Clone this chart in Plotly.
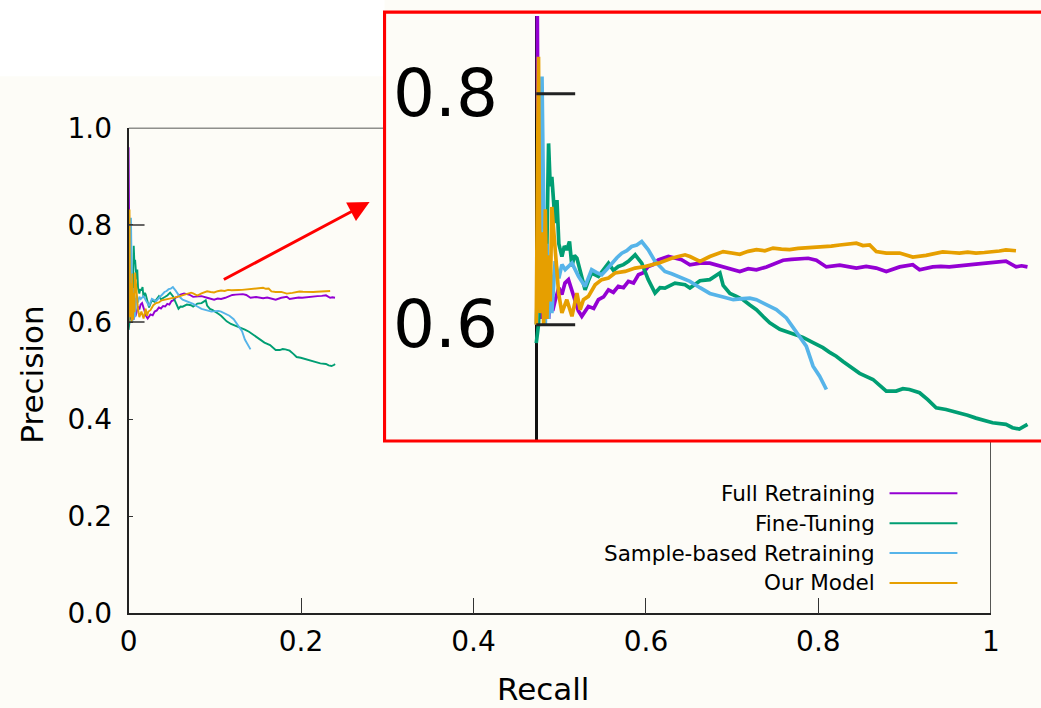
import plotly.graph_objects as go

# ---------------- data ----------------
series_names = ["Full Retraining", "Fine-Tuning", "Sample-based Retraining", "Our Model"]
series_colors = ["#9400d3", "#009e73", "#56b4e9", "#e69f00"]

full_recall = [0.0, 0.0005, 0.001, 0.0015, 0.002, 0.0025, 0.003, 0.004, 0.005, 0.006,
               0.007, 0.008, 0.0093, 0.011, 0.0125, 0.014, 0.0157, 0.0175, 0.019, 0.0205,
               0.0222, 0.0238, 0.0254, 0.028, 0.0303, 0.0328, 0.0352, 0.0376, 0.04, 0.0425,
               0.0449, 0.0474, 0.0498, 0.0522, 0.0546, 0.057, 0.0595, 0.0644, 0.0676, 0.0708,
               0.0749, 0.0798, 0.0846, 0.0911, 0.0952, 0.0992, 0.1033, 0.1073, 0.1122, 0.1162,
               0.1203, 0.1244, 0.1284, 0.1325, 0.1365, 0.1414, 0.1479, 0.152, 0.156, 0.1608,
               0.1657, 0.1706, 0.1771, 0.1835, 0.1868, 0.1932, 0.1972, 0.2013, 0.2054, 0.2094,
               0.2143, 0.2192, 0.224, 0.2289, 0.2338, 0.2365, 0.2394]
full_precision = [0.96, 0.875, 0.70, 0.62, 0.66, 0.605, 0.64, 0.60, 0.625, 0.605,
                  0.63, 0.612, 0.6216, 0.632, 0.626, 0.636, 0.639, 0.628, 0.6216, 0.612,
                  0.6072, 0.612, 0.6158, 0.614, 0.6216, 0.624, 0.6302, 0.628, 0.6331, 0.632,
                  0.6375, 0.636, 0.6432, 0.645, 0.6504, 0.652, 0.6562, 0.659, 0.658, 0.6562,
                  0.6519, 0.6533, 0.6533, 0.650, 0.648, 0.646, 0.6485, 0.6475, 0.650, 0.653,
                  0.6558, 0.6565, 0.657, 0.6575, 0.6558, 0.650, 0.6515, 0.650, 0.649, 0.6505,
                  0.649, 0.646, 0.650, 0.6519, 0.6475, 0.650, 0.6505, 0.650, 0.651, 0.6519,
                  0.6525, 0.6533, 0.654, 0.655, 0.650, 0.651, 0.650]

fine_recall = [0.0, 0.0011, 0.002, 0.003, 0.004, 0.005, 0.006, 0.0068, 0.0076, 0.0085,
               0.0092, 0.0101, 0.011, 0.0125, 0.0137, 0.0149, 0.0162, 0.0174, 0.0186, 0.0198,
               0.0222, 0.0238, 0.0254, 0.027, 0.0303, 0.0328, 0.0352, 0.0376, 0.04, 0.0425,
               0.0449, 0.0482, 0.0514, 0.0546, 0.0579, 0.0603, 0.0627, 0.0676, 0.0725, 0.0749,
               0.0798, 0.0846, 0.0871, 0.0895, 0.0911, 0.0944, 0.0976, 0.1008, 0.1041, 0.1073,
               0.1106, 0.1138, 0.1187, 0.1235, 0.1268, 0.130, 0.1349, 0.1397, 0.143, 0.1462,
               0.1495, 0.1527, 0.1576, 0.1641, 0.1706, 0.1754, 0.1787, 0.1819, 0.1868, 0.1908,
               0.1949, 0.1997, 0.2062, 0.2102, 0.2143, 0.2184, 0.2224, 0.2289, 0.2321, 0.2354,
               0.2386, 0.2394]
fine_precision = [0.584, 0.60, 0.64, 0.62, 0.68, 0.65, 0.757, 0.72, 0.728, 0.70,
                  0.688, 0.708, 0.67, 0.659, 0.668, 0.6648, 0.672, 0.6504, 0.66, 0.6576,
                  0.6418, 0.6302, 0.638, 0.6447, 0.6418, 0.648, 0.6533, 0.647, 0.6504, 0.652,
                  0.6548, 0.6605, 0.6533, 0.639, 0.6274, 0.632, 0.6317, 0.636, 0.6346, 0.6317,
                  0.638, 0.639, 0.642, 0.6447, 0.634, 0.627, 0.6245, 0.6216, 0.617, 0.613,
                  0.607, 0.6015, 0.596, 0.5928, 0.591, 0.589, 0.5845, 0.580, 0.576, 0.5726,
                  0.568, 0.564, 0.5578, 0.5525, 0.5424, 0.5424, 0.5445, 0.5438, 0.541, 0.535,
                  0.528, 0.5265, 0.5237, 0.5215, 0.519, 0.517, 0.515, 0.5136, 0.5107, 0.5095,
                  0.5121, 0.5136]

sample_recall = [0.0, 0.0008, 0.0015, 0.0028, 0.0036, 0.0044, 0.0052, 0.006, 0.0068, 0.0076,
                 0.0092, 0.011, 0.0125, 0.0141, 0.0174, 0.0206, 0.0238, 0.027, 0.0295, 0.0319,
                 0.0344, 0.0368, 0.0393, 0.0417, 0.0441, 0.0465, 0.049, 0.0514, 0.0546, 0.0579,
                 0.0603, 0.0627, 0.066, 0.0692, 0.0749, 0.0798, 0.0846, 0.0911, 0.096, 0.1008,
                 0.1041, 0.1073, 0.1122, 0.117, 0.1219, 0.1268, 0.1316, 0.1349, 0.1381, 0.1414]
sample_precision = [0.60, 0.64, 0.62, 0.815, 0.70, 0.60, 0.67, 0.605, 0.65, 0.61,
                    0.655, 0.64, 0.652, 0.6476, 0.6533, 0.6418, 0.6331, 0.6476, 0.645, 0.6432,
                    0.648, 0.6533, 0.658, 0.6619, 0.664, 0.6677, 0.669, 0.672, 0.6648, 0.6548,
                    0.650, 0.6461, 0.644, 0.6418, 0.6375, 0.632, 0.627, 0.624, 0.6216, 0.6225,
                    0.623, 0.6216, 0.6173, 0.613, 0.6058, 0.594, 0.5813, 0.564, 0.5553, 0.5438]

ours_recall = [0.0, 0.0011, 0.0015, 0.0019, 0.0028, 0.0036, 0.0044, 0.0052, 0.006, 0.0068,
               0.0076, 0.0092, 0.0109, 0.0125, 0.0149, 0.0174, 0.0198, 0.0214, 0.023, 0.0254,
               0.0287, 0.0319, 0.0352, 0.0384, 0.0433, 0.0482, 0.053, 0.0595, 0.066, 0.0725,
               0.0749, 0.0798, 0.0846, 0.0911, 0.0952, 0.0992, 0.1033, 0.1073, 0.1114, 0.1154,
               0.1195, 0.1235, 0.1276, 0.1316, 0.1357, 0.1397, 0.1438, 0.1479, 0.152, 0.156,
               0.1592, 0.1625, 0.1657, 0.1706, 0.1771, 0.1835, 0.19, 0.1941, 0.1981, 0.2022,
               0.2062, 0.2103, 0.2143, 0.2184, 0.2224, 0.2257, 0.2289, 0.2338]
ours_precision = [0.60, 0.832, 0.70, 0.61, 0.68, 0.60, 0.70, 0.605, 0.66, 0.62,
                  0.702, 0.66, 0.6274, 0.6101, 0.6216, 0.6072, 0.6274, 0.613, 0.6216, 0.6245,
                  0.6346, 0.639, 0.6404, 0.6447, 0.6461, 0.649, 0.6504, 0.6533, 0.6576, 0.6605,
                  0.659, 0.6547, 0.659, 0.6633, 0.662, 0.661, 0.6635, 0.665, 0.664, 0.6663,
                  0.6655, 0.665, 0.666, 0.6663, 0.667, 0.6677, 0.668, 0.669, 0.6695, 0.6706,
                  0.6685, 0.669, 0.6633, 0.662, 0.662, 0.6586, 0.660, 0.6615, 0.663, 0.6625,
                  0.662, 0.6628, 0.662, 0.6625, 0.663, 0.6638, 0.6648, 0.664]

x_ticks = [0, 0.2, 0.4, 0.6, 0.8, 1]
x_tick_labels = ["0", "0.2", "0.4", "0.6", "0.8", "1"]
y_ticks = [0, 0.2, 0.4, 0.6, 0.8, 1.0]
y_tick_labels = ["0.0", "0.2", "0.4", "0.6", "0.8", "1.0"]
long_y_ticks = [0.6, 0.8]
inset_y_ticks = [0.6, 0.8]
inset_y_tick_labels = ["0.6", "0.8"]

x_title = "Recall"
y_title = "Precision"

series_recall = [full_recall, fine_recall, sample_recall, ours_recall]
series_precision = [full_precision, fine_precision, sample_precision, ours_precision]

# ---------------- layout geometry ----------------
# The photographed page maps figure pixel F to picture pixel A + S*F; all target
# positions below are picture pixels and get mapped back into the figure.
AX, AY, SX, SY = 7.7, 15.6, 0.9848, 0.9568
W, H = 1049, 724
FONT = "DejaVu Sans"
CREAM = "#fdfcf7"


def fx(p):
    return (p - AX) / SX


def fy(p):
    return (p - AY) / SY


def px_x(p):
    return fx(p) / W


def px_y(p):
    return 1 - fy(p) / H


main_l, main_r, main_t, main_b = 127.5, 991.5, 127.7, 614.5
ins_l, ins_t, ins_b = 384.0, 11.7, 441.7
ins_x0_px, ins_xscale = 536.0, 2056.0       # inset: picture pixel of recall 0, px per unit
ins_y06_px, ins_yscale = 325.0, 1157.0      # inset: picture pixel of precision 0.6, px per unit
main_xscale = main_r - main_l
main_yscale = main_b - main_t

fig_right_px = AX + SX * W
fig_top_px = AY
inset_xrange = [(ins_l - ins_x0_px) / ins_xscale, (fig_right_px - ins_x0_px) / ins_xscale]
inset_yrange = [0.6 - (ins_b - ins_y06_px) / ins_yscale, 0.6 + (ins_y06_px - fig_top_px) / ins_yscale]

fig = go.Figure()

for name, color, rx, py in zip(series_names, series_colors, series_recall, series_precision):
    fig.add_trace(go.Scatter(x=rx, y=py, mode="lines", name=name,
                             line=dict(color=color, width=1.9), showlegend=False,
                             xaxis="x", yaxis="y", hoverinfo="skip"))
for name, color, rx, py in zip(series_names, series_colors, series_recall, series_precision):
    fig.add_trace(go.Scatter(x=rx, y=py, mode="lines", name=name,
                             line=dict(color=color, width=3.7), showlegend=False,
                             xaxis="x2", yaxis="y2", hoverinfo="skip"))

tickfont = dict(family=FONT, size=28, color="black")

shapes = []
# white strip at the top of the page (left of the inset)
shapes.append(dict(type="rect", xref="paper", yref="paper", x0=-0.02, x1=px_x(ins_l),
                   y0=px_y(76), y1=1.05, fillcolor="white", line=dict(width=0), layer="below"))
# main box: top and right borders (only outside the inset)
shapes.append(dict(type="line", xref="x", yref="y", x0=0, x1=(ins_l - main_l) / main_xscale,
                   y0=1, y1=1, line=dict(color="#222222", width=1.5)))
shapes.append(dict(type="line", xref="x", yref="y", x0=1, x1=1,
                   y0=0, y1=(main_b - ins_b) / main_yscale, line=dict(color="#222222", width=1.5)))
# longer inward ticks at 0.6 / 0.8 (main and inset)
for t in long_y_ticks:
    shapes.append(dict(type="line", xref="x", yref="y", x0=0, x1=16 / main_xscale,
                       y0=t, y1=t, line=dict(color="#333333", width=1.6)))
for t in inset_y_ticks:
    shapes.append(dict(type="line", xref="x2", yref="y2", x0=0, x1=39 / ins_xscale,
                       y0=t, y1=t, line=dict(color="#222222", width=3)))
# inset red frame (top edge and right edge fall outside the figure)
shapes.append(dict(type="rect", xref="paper", yref="paper", x0=px_x(ins_l), x1=1.02,
                   y0=px_y(ins_b), y1=px_y(ins_t), line=dict(color="#ff0000", width=3.1),
                   fillcolor="rgba(0,0,0,0)", layer="above"))

# legend (text on the left, sample on the right)
legend_rows = [494, 524, 554, 584]
for name, color, ry in zip(series_names, series_colors, legend_rows):
    shapes.append(dict(type="line", xref="paper", yref="paper", x0=px_x(890), x1=px_x(958),
                       y0=px_y(ry), y1=px_y(ry), line=dict(color=color, width=2)))

annotations = []
for name, ry in zip(series_names, legend_rows):
    annotations.append(dict(text=name, xref="paper", yref="paper", x=px_x(877), y=px_y(ry),
                            xanchor="right", yanchor="middle", showarrow=False,
                            font=dict(family=FONT, size=21.5, color="black")))
for t, lab in zip(inset_y_ticks, inset_y_tick_labels):
    annotations.append(dict(text=lab, xref="x2", yref="y2", x=(500 - ins_x0_px) / ins_xscale, y=t,
                            xanchor="right", yanchor="middle", showarrow=False,
                            font=dict(family=FONT, size=66, color="black")))
annotations.append(dict(text=x_title, xref="paper", yref="paper", x=px_x(543), y=px_y(690),
                        xanchor="center", yanchor="middle", showarrow=False,
                        font=dict(family=FONT, size=31, color="black")))
annotations.append(dict(text=y_title, xref="paper", yref="paper", x=px_x(30), y=px_y(375),
                        xanchor="center", yanchor="middle", showarrow=False, textangle=-90,
                        font=dict(family=FONT, size=31, color="black")))
annotations.append(dict(text="", xref="paper", yref="paper", x=px_x(369), y=px_y(202),
                        ax=-145 / SX, ay=75 / SY, showarrow=True, arrowhead=2, arrowsize=1.4,
                        arrowwidth=3, arrowcolor="#ff0000"))

fig.update_layout(
    width=W, height=H, margin=dict(l=0, r=0, t=0, b=0), autosize=False,
    paper_bgcolor=CREAM, plot_bgcolor=CREAM,
    showlegend=False,
    xaxis=dict(domain=[px_x(main_l), px_x(main_r)], range=[0, 1], showgrid=False, zeroline=False,
               showline=True, linecolor="#222222", linewidth=1.5, mirror=False,
               ticks="inside", ticklen=15 / SY, tickwidth=1, tickcolor="#333333",
               tickvals=x_ticks, ticktext=x_tick_labels, tickfont=tickfont,
               ticklabelstandoff=2, fixedrange=True),
    yaxis=dict(domain=[px_y(main_b), px_y(main_t)], range=[0, 1], showgrid=False, zeroline=False,
               showline=True, linecolor="#222222", linewidth=2, mirror=False,
               ticks="inside", ticklen=4, tickwidth=1, tickcolor="#333333",
               tickvals=y_ticks, ticktext=y_tick_labels, tickfont=tickfont,
               ticklabelstandoff=9, fixedrange=True),
    xaxis2=dict(domain=[px_x(ins_l), 1.0], range=inset_xrange, anchor="y2",
                showgrid=False, showline=False, showticklabels=False, ticks="",
                zeroline=True, zerolinecolor="#111111", zerolinewidth=3, fixedrange=True),
    yaxis2=dict(domain=[px_y(ins_b), 1.0], range=inset_yrange, anchor="x2",
                showgrid=False, showline=False, showticklabels=False, ticks="",
                zeroline=False, fixedrange=True),
    shapes=shapes, annotations=annotations,
)

# page background above the figure: white band, plus the top strip of the red inset frame
cap_x = lambda p: p / SX
cap_y = lambda p: p / SY
red_x = cap_x(ins_l - 1.5)
red_y = cap_y(ins_t - 1.5)
bg = (
    "linear-gradient(#ff0000,#ff0000) {rx:.1f}px {ry:.1f}px / 800px 3.2px no-repeat, "
    "linear-gradient(#ff0000,#ff0000) {rx:.1f}px {ry:.1f}px / 3.2px 30px no-repeat, "
    "linear-gradient({c},{c}) {rx:.1f}px {ry:.1f}px / 800px 30px no-repeat, "
    "linear-gradient(#ffffff 0px, #ffffff {wb:.1f}px, {c} {wb:.1f}px)"
).format(rx=red_x, ry=red_y, c=CREAM, wb=cap_y(76))

page_fix = (
    "document.documentElement.style.margin='0';"
    "document.body.style.margin='0';"
    "document.body.style.overflow='hidden';"
    "document.documentElement.style.overflow='hidden';"
    "document.body.style.background='transparent';"
    "document.documentElement.style.background='" + bg + "';"
)

fig.write_html("out.html", config={"displayModeBar": False, "responsive": False},
               post_script=page_fix)
